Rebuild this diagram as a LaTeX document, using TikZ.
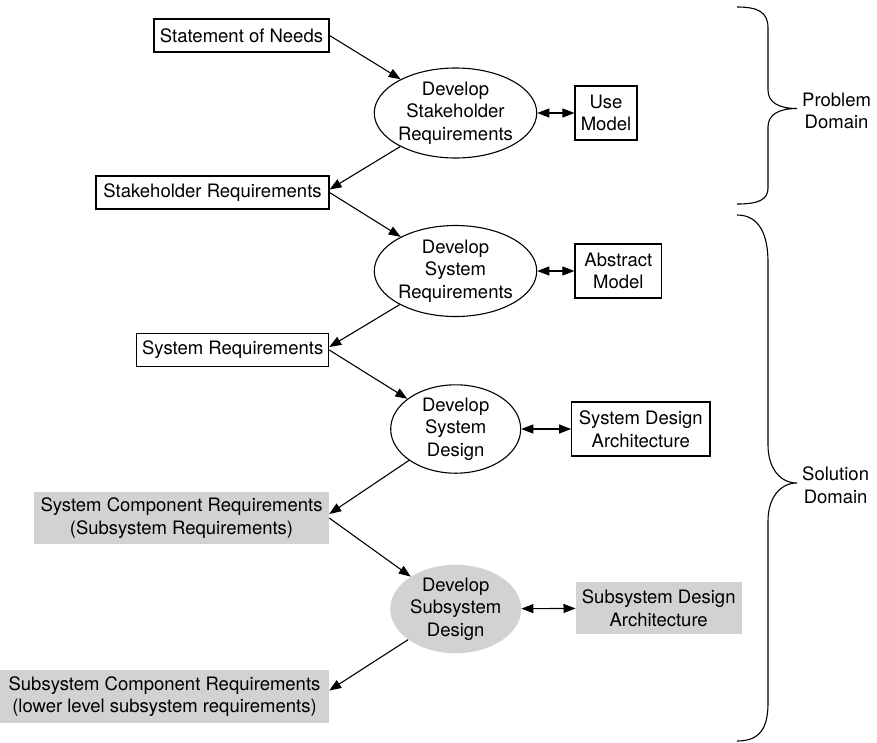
\documentclass[tikz,border=0pt]{standalone}
\usepackage{fontspec}
\setmainfont{TeX Gyre Heros}
\usetikzlibrary{arrows.meta,shapes.geometric}
\definecolor{boxgray}{HTML}{D2D2D2}
\begin{document}
\begin{tikzpicture}[x=1pt,y=-1pt,
  font=\fontsize{18.5}{22.5}\selectfont,
  box/.style={draw, line width=1.1pt, inner sep=0pt, align=center},
  gbox/.style={fill=boxgray, inner sep=0pt, align=center},
  proc/.style={ellipse, draw, line width=1.1pt, inner sep=0pt, align=center},
  gproc/.style={ellipse, fill=boxgray, inner sep=0pt, align=center},
  flow/.style={line width=1.1pt, -{Triangle[length=12pt,width=9pt]}},
  both/.style={line width=1.1pt, {Triangle[length=12pt,width=9pt]}-{Triangle[length=12pt,width=9pt]}},
  brace/.style={line width=1.1pt}]
\useasboundingbox (0,0) rectangle (877,742);

% process ellipses
\node[proc, minimum width=139pt, minimum height=90pt] (e1) at (455.5,113) {Develop\\Stakeholder\\Requirements};
\node[proc, minimum width=139pt, minimum height=91pt] (e2) at (455.5,271) {Develop\\System\\Requirements};
\node[proc, minimum width=130pt, minimum height=82pt] (e3) at (455.7,429) {Develop\\System\\Design};
\node[gproc, minimum width=131pt, minimum height=78pt] (e4) at (455.7,609) {Develop\\Subsystem\\Design};

% left boxes
\node[box, minimum width=175pt, minimum height=33pt] (needs) at (241.5,35.5) {Statement of Needs};
\node[box, minimum width=233pt, minimum height=33pt] (streq) at (212.5,192.5) {Stakeholder Requirements};
\node[box, minimum width=192pt, minimum height=33.7pt] (sysreq) at (232.7,350) {System Requirements};
\node[gbox, minimum width=295pt, minimum height=52pt] (scr) at (181.5,518) {System Component Requirements\\(Subsystem Requirements)};
\node[gbox, minimum width=329pt, minimum height=53pt] (sscr) at (164.5,696.5) {Subsystem Component Requirements\\(lower level subsystem requirements)};

% right boxes
\node[box, minimum width=62pt, minimum height=54pt] (use) at (606,113) {Use\\Model};
\node[box, minimum width=86.7pt, minimum height=54pt] (abs) at (618.3,271) {Abstract\\Model};
\node[box, minimum width=138.3pt, minimum height=54pt] (sda) at (640.8,429) {System Design\\Architecture};
\node[gbox, minimum width=166pt, minimum height=52pt] (ssda) at (658.7,608) {Subsystem Design\\Architecture};

% flow connectors
\draw[flow] (needs.east) -- (e1);
\draw[flow] (e1) -- ([yshift=3pt]streq.east);
\draw[flow] (streq.east) -- (e2);
\draw[flow] (e2) -- ([yshift=3pt]sysreq.east);
\draw[flow] (sysreq.east) -- (e3);
\draw[flow] (e3) -- ([yshift=4pt]scr.east);
\draw[flow] (scr.east) -- (e4);
\draw[flow] (e4) -- ([yshift=6pt]sscr.east);

% model links
\draw[both] (e1) -- (use);
\draw[both] (e2) -- (abs);
\draw[both] (e3) -- (sda);
\draw[both] (e4) -- (ssda);

% braces
\coordinate (ptip) at (797,108.5);
\coordinate (stip) at (797,483);
\draw[brace] (737,7) .. controls (758,7) and (768,12) .. (768,28) -- (768,90)
  .. controls (768,102) and (778,108.5) .. (ptip)
  .. controls (778,108.5) and (768,115) .. (768,127) -- (768,188)
  .. controls (768,200) and (758,204) .. (737,204);
\draw[brace] (737,215) .. controls (760,215) and (768,236) .. (768,262) -- (768,445)
  .. controls (768,468) and (780,483) .. (stip)
  .. controls (780,483) and (768,498) .. (768,521) -- (768,703)
  .. controls (768,728) and (760,741) .. (737,741);
\node[anchor=west, align=center, inner sep=0pt] (prob) at (802,111) {Problem\\Domain};
\node[anchor=west, align=center, inner sep=0pt] (sol) at (802,485) {Solution\\Domain};
\end{tikzpicture}
\end{document}
